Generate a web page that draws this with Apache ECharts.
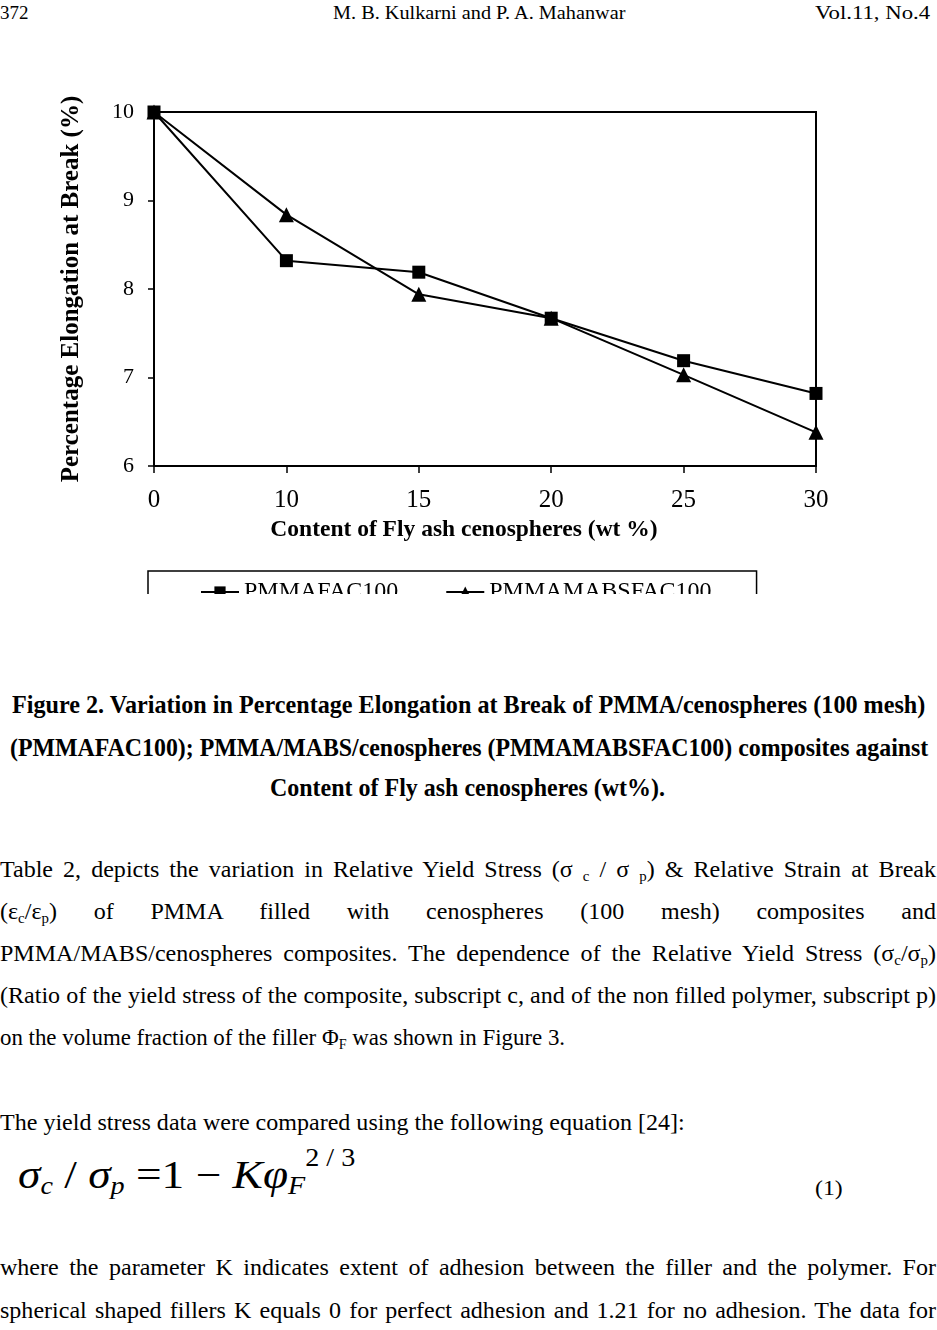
<!DOCTYPE html>
<html lang="en">
  <head>
    <meta charset="UTF-8" />
    <title>Figure 2</title>
    <style>
      html, body { margin: 0; padding: 0; background: #fff; }
      body { width: 937px; height: 1330px; position: relative; overflow: hidden;
             font-family: "Liberation Serif", "Times New Roman", serif; color: #000; }
      .chart { position: absolute; left: 0; top: 90px; width: 937px; height: 504px; }
      .ln { position: absolute; white-space: nowrap; transform-origin: 0 50%; }
      .ln sub { font-size: 0.62em; vertical-align: -0.25em; line-height: 0; }
      .ln sup { font-size: 0.62em; vertical-align: 0.9em; line-height: 0; }
    </style>
  </head>
  <body>
    <div class="chart" id="chart"></div>

    <script src="https://cdn.jsdelivr.net/npm/echarts@6/dist/echarts.min.js"></script>
    <script>
      // data
      var contents = ['0', '10', '15', '20', '25', '30'];
      var pmmaFac100 = [10, 8.32, 8.19, 7.67, 7.19, 6.82];
      var pmmaMabsFac100 = [10, 8.84, 7.94, 7.67, 7.03, 6.38];
      var seriesNames = ['PMMAFAC100', 'PMMAMABSFAC100'];

      var serif = '"Liberation Serif", "Times New Roman", serif';

      var myChart = echarts.init(document.getElementById('chart'));

      var option = {
        animation: false,
        grid: {
          left: 154, right: 121, top: 22, bottom: 128,
          show: true, borderColor: '#000', borderWidth: 2
        },
        legend: {
          data: seriesNames,
          left: 148,
          top: 481,
          itemWidth: 38,
          itemHeight: 14,
          itemGap: 47,
          padding: [9, 45, 9, 52],
          borderColor: '#000',
          borderWidth: 1.5,
          textStyle: { fontSize: 24, color: '#000', fontFamily: serif }
        },
        xAxis: {
          type: 'category',
          data: contents,
          boundaryGap: false,
          name: 'Content of Fly ash cenospheres (wt %)',
          nameLocation: 'middle',
          nameGap: 48,
          nameTextStyle: {
            fontSize: 23.5, fontWeight: 'bold', color: '#000', fontFamily: serif,
            padding: [0, 42, 0, 0]
          },
          axisLine: { lineStyle: { color: '#000', width: 2 } },
          axisTick: { length: 7, lineStyle: { color: '#000', width: 1.5 } },
          axisLabel: { margin: 22, fontSize: 25, color: '#000', fontFamily: serif },
          splitLine: { show: false }
        },
        yAxis: {
          type: 'value',
          min: 6,
          max: 10,
          interval: 1,
          name: 'Percentage Elongation at Break (%)',
          nameLocation: 'middle',
          nameGap: 70,
          nameTextStyle: { fontSize: 25, fontWeight: 'bold', color: '#000', fontFamily: serif },
          axisLine: { show: true, lineStyle: { color: '#000', width: 2 } },
          axisTick: { show: true, length: 6, lineStyle: { color: '#000', width: 1.5 } },
          axisLabel: { margin: 20, fontSize: 22, color: '#000', fontFamily: serif },
          splitLine: { show: false }
        },
        series: [
          {
            name: seriesNames[0],
            type: 'line',
            z: 3,
            data: pmmaFac100,
            symbol: 'rect',
            symbolSize: 13,
            itemStyle: { color: '#000' },
            lineStyle: { color: '#000', width: 2 }
          },
          {
            name: seriesNames[1],
            type: 'line',
            z: 2,
            data: pmmaMabsFac100,
            symbol: 'triangle',
            symbolSize: 15,
            itemStyle: { color: '#000' },
            lineStyle: { color: '#000', width: 2 }
          }
        ]
      };
      myChart.setOption(option);

      // page text around the figure
      function addLine(html, o) {
        var d = document.createElement('div');
        d.className = 'ln';
        d.innerHTML = html;
        var lh = Math.round(o.size * 1.2);
        d.style.fontSize = o.size + 'px';
        d.style.lineHeight = lh + 'px';
        d.style.top = (o.y - lh / 2) + 'px';
        d.style.left = o.x1 + 'px';
        if (o.bold) d.style.fontWeight = 'bold';
        if (o.italic) d.style.fontStyle = 'italic';
        document.body.appendChild(d);
        var target = o.x2 - o.x1;
        if (o.justify) {
          d.style.width = (target / o.c) + 'px';
          d.style.textAlign = 'justify';
          d.style.textAlignLast = 'justify';
          d.style.whiteSpace = 'normal';
          d.style.transform = 'scaleX(' + o.c + ')';
        } else {
          var w = d.offsetWidth;
          var s = target / w;
          d.style.transform = 'scaleX(' + s + ')';
          return s;
        }
      }

      // header
      addLine('372', { x1: 0, x2: 29, y: 12, size: 19 });
      addLine('M. B. Kulkarni and P. A. Mahanwar', { x1: 333, x2: 625, y: 12, size: 19 });
      addLine('Vol.11, No.4', { x1: 815, x2: 930, y: 12, size: 19 });

      // caption
      addLine('Figure 2. Variation in Percentage Elongation at Break of PMMA/cenospheres (100 mesh)',
              { x1: 12, x2: 925, y: 705, size: 25, bold: true });
      addLine('(PMMAFAC100); PMMA/MABS/cenospheres (PMMAMABSFAC100) composites against',
              { x1: 10, x2: 928, y: 748, size: 25, bold: true });
      addLine('Content of Fly ash cenospheres (wt%).',
              { x1: 270, x2: 665, y: 788, size: 25, bold: true });

      // body text
      var c = addLine('The yield stress data were compared using the following equation [24]:',
                      { x1: 0, x2: 685, y: 1122, size: 24 });
      var body = [
        ['Table 2, depicts the variation in Relative Yield Stress (σ <sub>c</sub> / σ <sub>p</sub>) &amp; Relative Strain at Break', 869],
        ['(ε<sub>c</sub>/ε<sub>p</sub>) of PMMA filled with cenospheres (100 mesh) composites and', 911],
        ['PMMA/MABS/cenospheres composites. The dependence of the Relative Yield Stress (σ<sub>c</sub>/σ<sub>p</sub>)', 953],
        ['(Ratio of the yield stress of the composite, subscript c, and of the non filled polymer, subscript p)', 995],
        ['where the parameter K indicates extent of adhesion between the filler and the polymer. For', 1267],
        ['spherical shaped fillers K equals 0 for perfect adhesion and 1.21 for no adhesion. The data for', 1310]
      ];
      body.forEach(function (b) {
        addLine(b[0], { x1: 0, x2: 936, y: b[1], size: 24, justify: true, c: c });
      });
      addLine('on the volume fraction of the filler Φ<sub>F</sub> was shown in Figure 3.',
              { x1: 0, x2: 565, y: 1037, size: 24 });

      // equation (1)
      addLine('<i>σ</i><sub><i>c</i></sub> / <i>σ</i><sub><i>p</i></sub> =1 − <i>Kφ</i><sub><i>F</i></sub><sup>2 / 3</sup>',
              { x1: 18, x2: 355, y: 1175, size: 40 });
      addLine('(1)', { x1: 815, x2: 843, y: 1188, size: 22 });
    </script>
  </body>
</html>
